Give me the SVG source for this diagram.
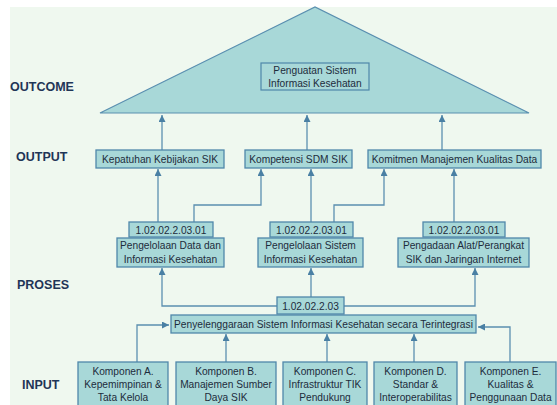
<svg xmlns="http://www.w3.org/2000/svg" width="557" height="405" viewBox="0 0 557 405">
<defs>
<marker id="ah" viewBox="0 0 10 10" refX="10" refY="5" markerWidth="7" markerHeight="7" markerUnits="userSpaceOnUse" orient="auto">
<path d="M0,0 L10,5 L0,10 z" fill="#4a80a4"/>
</marker>
<style>
.bg{fill:#eff8ef}
.box{fill:#a8d8d8;stroke:#4f87aa;stroke-width:1.3}
.tri{fill:#a8d8d8;stroke:#5a8fb0;stroke-width:1.2}
.inner{fill:none;stroke:#4f87aa;stroke-width:1.2}
.t{font-family:"Liberation Sans",Arial,sans-serif;font-size:10.2px;fill:#1d2c3c;text-anchor:middle}
.lab{font-family:"Liberation Sans",Arial,sans-serif;font-size:12.5px;font-weight:bold;fill:#1f3557}
.c{fill:none;stroke:#5b8fb0;stroke-width:1.3;marker-end:url(#ah)}
</style>
</defs>
<rect class="bg" x="10" y="7" width="547" height="398"/>

<g id="labels">
<text class="lab" x="10" y="91">OUTCOME</text>
<text class="lab" x="16" y="161">OUTPUT</text>
<text class="lab" x="17" y="289">PROSES</text>
<text class="lab" x="22" y="389">INPUT</text>
</g>

<g id="outcome">
<polygon class="tri" points="100,113 315,7 529,113"/>
<rect class="inner" x="261" y="63" width="108" height="27"/>
<text class="t" x="315" y="74">Penguatan Sistem</text>
<text class="t" x="315" y="86.5">Informasi Kesehatan</text>
</g>

<g id="connectors">
<path class="c" d="M162,150 V115"/>
<path class="c" d="M307,150 V115"/>
<path class="c" d="M442,150 V115"/>
<path class="c" d="M158,222 V169"/>
<path class="c" d="M194,222 V205 H261 V169"/>
<path class="c" d="M311,222 V169"/>
<path class="c" d="M334,222 V205 H384 V169"/>
<path class="c" d="M454,222 V169"/>
<path class="c" d="M277,306 H162 V268"/>
<path class="c" d="M311,297 V268"/>
<path class="c" d="M344,306 H475 V268"/>
<path class="c" d="M137,362 V325 H169"/>
<path class="c" d="M226,362 V334"/>
<path class="c" d="M327,362 V334"/>
<path class="c" d="M414,362 V334"/>
<path class="c" d="M510,362 V327 H478"/>
</g>

<g id="out1">
<rect class="box" x="96" y="150" width="128" height="18"/>
<text class="t" x="160" y="163">Kepatuhan Kebijakan SIK</text>
</g>
<g id="out2">
<rect class="box" x="245" y="150" width="107" height="18"/>
<text class="t" x="298.5" y="163">Kompetensi SDM SIK</text>
</g>
<g id="out3">
<rect class="box" x="368" y="150" width="173" height="18"/>
<text class="t" x="454.5" y="163">Komitmen Manajemen Kualitas Data</text>
</g>

<g id="proc1">
<rect class="box" x="129" y="222" width="84" height="15"/>
<text class="t" x="171" y="233.5">1.02.02.2.03.01</text>
<rect class="box" x="117" y="238" width="107" height="29"/>
<text class="t" x="170.5" y="249">Pengelolaan Data dan</text>
<text class="t" x="170.5" y="262.5">Informasi Kesehatan</text>
</g>
<g id="proc2">
<rect class="box" x="270" y="222" width="83" height="15"/>
<text class="t" x="311.5" y="233.5">1.02.02.2.03.01</text>
<rect class="box" x="258" y="238" width="105" height="29"/>
<text class="t" x="310.5" y="249">Pengelolaan Sistem</text>
<text class="t" x="310.5" y="262.5">Informasi Kesehatan</text>
</g>
<g id="proc3">
<rect class="box" x="423" y="222" width="82" height="15"/>
<text class="t" x="464" y="233.5">1.02.02.2.03.01</text>
<rect class="box" x="398" y="238" width="131" height="29"/>
<text class="t" x="463.5" y="249">Pengadaan Alat/Perangkat</text>
<text class="t" x="463.5" y="262.5">SIK dan Jaringan Internet</text>
</g>

<g id="main">
<rect class="box" x="277" y="297" width="67" height="17"/>
<text class="t" x="310.5" y="309.5">1.02.02.2.03</text>
<rect class="box" x="171" y="315" width="305" height="18"/>
<text class="t" x="323.5" y="328">Penyelenggaraan Sistem Informasi Kesehatan secara Terintegrasi</text>
</g>

<g id="inA">
<rect class="box" x="78" y="362" width="90" height="50"/>
<text class="t" x="123" y="375">Komponen A.</text>
<text class="t" x="123" y="388">Kepemimpinan &amp;</text>
<text class="t" x="123" y="401">Tata Kelola</text>
</g>
<g id="inB">
<rect class="box" x="176" y="362" width="100" height="50"/>
<text class="t" x="226" y="375">Komponen B.</text>
<text class="t" x="226" y="388">Manajemen Sumber</text>
<text class="t" x="226" y="401">Daya SIK</text>
</g>
<g id="inC">
<rect class="box" x="283" y="362" width="84" height="50"/>
<text class="t" x="325" y="375">Komponen C.</text>
<text class="t" x="325" y="388">Infrastruktur TIK</text>
<text class="t" x="325" y="401">Pendukung</text>
</g>
<g id="inD">
<rect class="box" x="374" y="362" width="83" height="50"/>
<text class="t" x="415.5" y="375">Komponen D.</text>
<text class="t" x="415.5" y="388">Standar &amp;</text>
<text class="t" x="415.5" y="401">Interoperabilitas</text>
</g>
<g id="inE">
<rect class="box" x="465" y="362" width="91" height="50"/>
<text class="t" x="510.5" y="375">Komponen E.</text>
<text class="t" x="510.5" y="388">Kualitas &amp;</text>
<text class="t" x="510.5" y="401">Penggunaan Data</text>
</g>
</svg>
